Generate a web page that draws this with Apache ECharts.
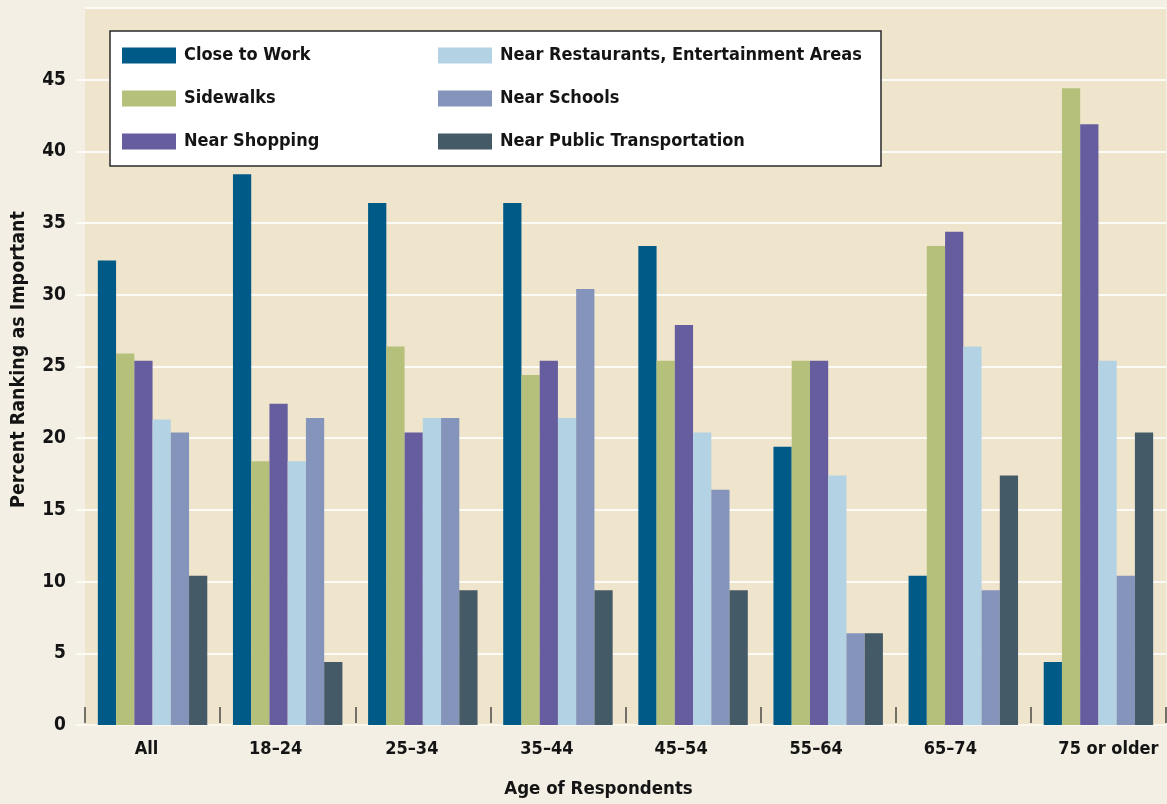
<!DOCTYPE html>
<html>
<head>
<meta charset="utf-8">
<title>Percent Ranking as Important by Age</title>
<script src="https://cdn.jsdelivr.net/npm/echarts@6/dist/echarts.min.js"></script>
<style>
  html, body { margin: 0; padding: 0; background: #f3efe4; }
  #chart { width: 1167px; height: 804px; }
</style>
</head>
<body>
<div id="chart"></div>
<script>
// values (percent)
const categories = ["All", "18–24", "25–34", "35–44", "45–54", "55–64", "65–74", "75 or older"];
const closeToWork = [32.4, 38.4, 36.4, 36.4, 33.4, 19.4, 10.4, 4.4];
const sidewalks = [25.9, 18.4, 26.4, 24.4, 25.4, 25.4, 33.4, 44.4];
const nearShopping = [25.4, 22.4, 20.4, 25.4, 27.9, 25.4, 34.4, 41.9];
const nearRestaurants = [21.3, 18.4, 21.4, 21.4, 20.4, 17.4, 26.4, 25.4];
const nearSchools = [20.4, 21.4, 21.4, 30.4, 16.4, 6.4, 9.4, 10.4];
const nearTransit = [10.4, 4.4, 9.4, 9.4, 9.4, 6.4, 17.4, 20.4];
const yTicks = [0, 5, 10, 15, 20, 25, 30, 35, 40, 45, 50];

const seriesNames = [
  "Close to Work", "Sidewalks", "Near Shopping",
  "Near Restaurants, Entertainment Areas", "Near Schools", "Near Public Transportation"
];
const seriesData = [closeToWork, sidewalks, nearShopping, nearRestaurants, nearSchools, nearTransit];
const colors = ["#005a87", "#b5c17b", "#655d9e", "#b3d2e3", "#8594bb", "#455a67"];

const font = '"DejaVu Sans Condensed", "Liberation Sans", sans-serif';
const ink = "#141414";

// the category labels in the source sit a little off the band centres
const labelNudge = [-6, -12, -11, -11, -12, -12, -13, 10];
const xLabels = categories.map((c, i) => {
  const n = labelNudge[i];
  return {
    value: c,
    textStyle: { padding: n < 0 ? [0, -2 * n, 0, 0] : [0, 0, 0, 2 * n] }
  };
});

const legendBase = {
  orient: "vertical",
  top: 46,
  itemWidth: 54,
  itemHeight: 16,
  itemGap: 24,
  padding: 0,
  icon: "rect",
  z: 11,
  selectedMode: false,
  textStyle: {
    fontFamily: font, fontSize: 18, fontWeight: "bold", color: ink,
    lineHeight: 16, padding: [3, 0, 0, 3]
  }
};

const myChart = echarts.init(document.getElementById("chart"));

const option = {
  backgroundColor: "#f3efe4",
  animation: false,
  color: colors,
  grid: {
    left: 85, right: 1, top: 8, bottom: 76,
    show: true, backgroundColor: "#efe4cc", borderWidth: 0
  },
  graphic: [{
    type: "rect",
    z: 10,
    shape: { x: 110, y: 31, width: 771, height: 135 },
    style: { fill: "#ffffff", stroke: "#2a2a2a", lineWidth: 1.5 }
  }],
  legend: [
    Object.assign({}, legendBase, { left: 122, data: seriesNames.slice(0, 3) }),
    Object.assign({}, legendBase, { left: 438, data: seriesNames.slice(3) })
  ],
  xAxis: [
    {
      type: "category",
      data: xLabels,
      name: "Age of Respondents",
      nameLocation: "middle",
      nameGap: 55,
      nameTextStyle: {
        fontFamily: font, fontSize: 18.5, fontWeight: "bold", color: ink,
        padding: [0, 54, 0, 0]
      },
      axisLine: { show: true, lineStyle: { color: "#fbf8f0", width: 2 } },
      axisTick: { show: false },
      axisLabel: {
        interval: 0,
        margin: 15,
        fontFamily: font, fontSize: 18, fontWeight: "bold", color: ink
      }
    },
    {
      // short dark separators between the age groups
      type: "category",
      data: categories,
      position: "bottom",
      offset: -2,
      axisLine: { show: false },
      axisLabel: { show: false },
      axisTick: { show: true, inside: true, length: 16, lineStyle: { color: "#4a4a44", width: 1.5 } }
    }
  ],
  yAxis: {
    type: "value",
    min: yTicks[0],
    max: yTicks[yTicks.length - 1],
    interval: yTicks[1] - yTicks[0],
    name: "Percent Ranking as Important",
    nameLocation: "middle",
    nameGap: 56,
    nameTextStyle: { fontFamily: font, fontSize: 19.5, fontWeight: "bold", color: ink, padding: [0, 0, 0, 14] },
    axisLine: { show: false },
    axisTick: { show: true, length: 9, lineStyle: { color: "#fdfbf6", width: 2 } },
    splitLine: { show: true, lineStyle: { color: "#fdfbf6", width: 2 } },
    axisLabel: {
      margin: 19,
      showMaxLabel: false,
      fontFamily: font, fontSize: 19, fontWeight: "bold", color: ink
    }
  },
  series: seriesNames.map((name, i) => ({
    name: name,
    type: "bar",
    xAxisIndex: 0,
    barGap: 0,
    barCategoryGap: "19%",
    data: seriesData[i],
    itemStyle: { color: colors[i] }
  }))
};

myChart.setOption(option);
</script>
</body>
</html>
